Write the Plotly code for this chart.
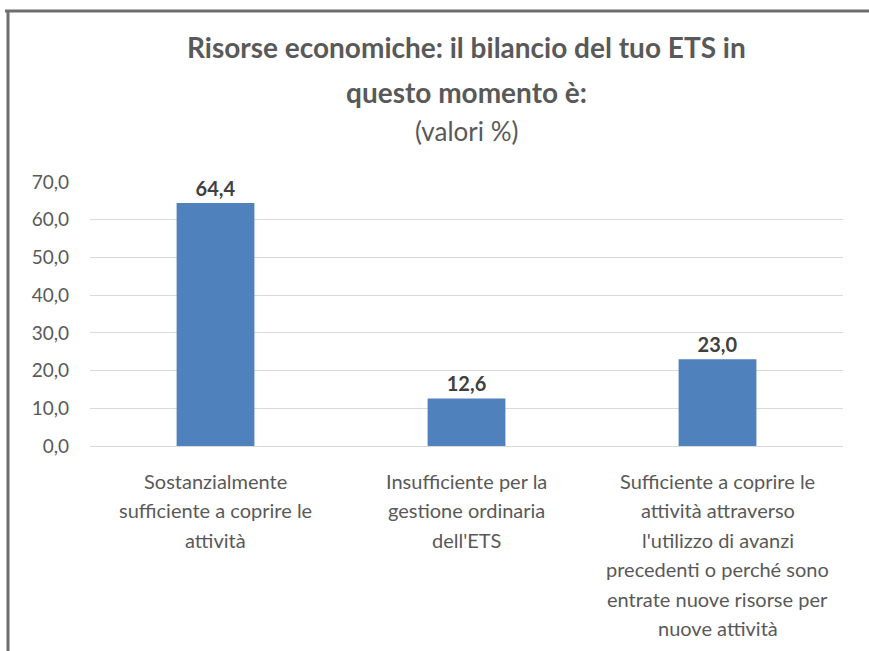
import plotly.graph_objects as go

categories = ["Sostanzialmente", "Insufficiente", "Sufficiente"]
values = [64.4, 12.6, 23.0]
category_lines = [
    ["Sostanzialmente", "sufficiente a coprire le", "attività"],
    ["Insufficiente per la", "gestione ordinaria", "dell'ETS"],
    ["Sufficiente a coprire le", "attività attraverso", "l'utilizzo di avanzi",
     "precedenti o perché sono", "entrate nuove risorse per", "nuove attività"],
]
y_ticks = [0, 10, 20, 30, 40, 50, 60, 70]

FONT = "Lato"
GREY = "#595959"

fig = go.Figure()
fig.add_trace(go.Bar(
    x=categories, y=values,
    marker=dict(color="#4f81bd", line=dict(width=0)),
    width=0.31,
    texttemplate="<b>%{y:.1f}</b>", textposition="outside",
    textfont=dict(family=FONT, size=20, color="#404040"),
    cliponaxis=False,
))

# multi-line category labels (Excel-like wide line spacing)
for cat, lines in zip(categories, category_lines):
    for i, line in enumerate(lines):
        fig.add_annotation(x=cat, y=0, xref="x", yref="y", text=line,
                           showarrow=False, yanchor="middle",
                           yshift=-(35 + 29.4 * i),
                           font=dict(family=FONT, size=20, color=GREY))

# title
fig.add_annotation(xref="paper", yref="paper", x=0.5, y=(446 - 47) / 264,
                   text="<b>Risorse economiche: il bilancio del tuo ETS in</b>",
                   showarrow=False, yanchor="middle",
                   font=dict(family=FONT, size=28, color=GREY))
fig.add_annotation(xref="paper", yref="paper", x=0.5, y=(446 - 92) / 264,
                   text="<b>questo momento è:</b>",
                   showarrow=False, yanchor="middle",
                   font=dict(family=FONT, size=28, color=GREY))
fig.add_annotation(xref="paper", yref="paper", x=0.5, y=(446 - 131) / 264,
                   text="(valori %)",
                   showarrow=False, yanchor="middle",
                   font=dict(family=FONT, size=26, color=GREY))

# chart frame (top and left edges visible)
fig.add_shape(type="line", xref="paper", yref="paper",
              x0=(5 - 90) / 753, x1=(870 - 90) / 753,
              y0=(446 - 11) / 264, y1=(446 - 11) / 264,
              line=dict(color="#6e6e6e", width=3))
fig.add_shape(type="line", xref="paper", yref="paper",
              x0=(8 - 90) / 753, x1=(8 - 90) / 753,
              y0=(446 - 11) / 264, y1=(446 - 660) / 264,
              line=dict(color="#6e6e6e", width=3))

fig.update_layout(
    width=869, height=651,
    margin=dict(l=90, r=26, t=182, b=205),
    paper_bgcolor="white", plot_bgcolor="white",
    separators=",.",
    showlegend=False,
    bargap=0.69,
    xaxis=dict(showticklabels=False, showgrid=False, showline=True,
               linecolor="#d9d9d9", linewidth=1, ticks=""),
    yaxis=dict(range=[0, 70], tickvals=y_ticks, tickformat=".1f",
               showgrid=True, gridcolor="#d9d9d9", gridwidth=1,
               zeroline=False, showline=False, ticks="", ticklen=0,
               ticklabelstandoff=20,
               tickfont=dict(family=FONT, size=19, color=GREY)),
)

fig.write_html("out.html", config={"displayModeBar": False},
               post_script="document.body.style.margin='0';")
